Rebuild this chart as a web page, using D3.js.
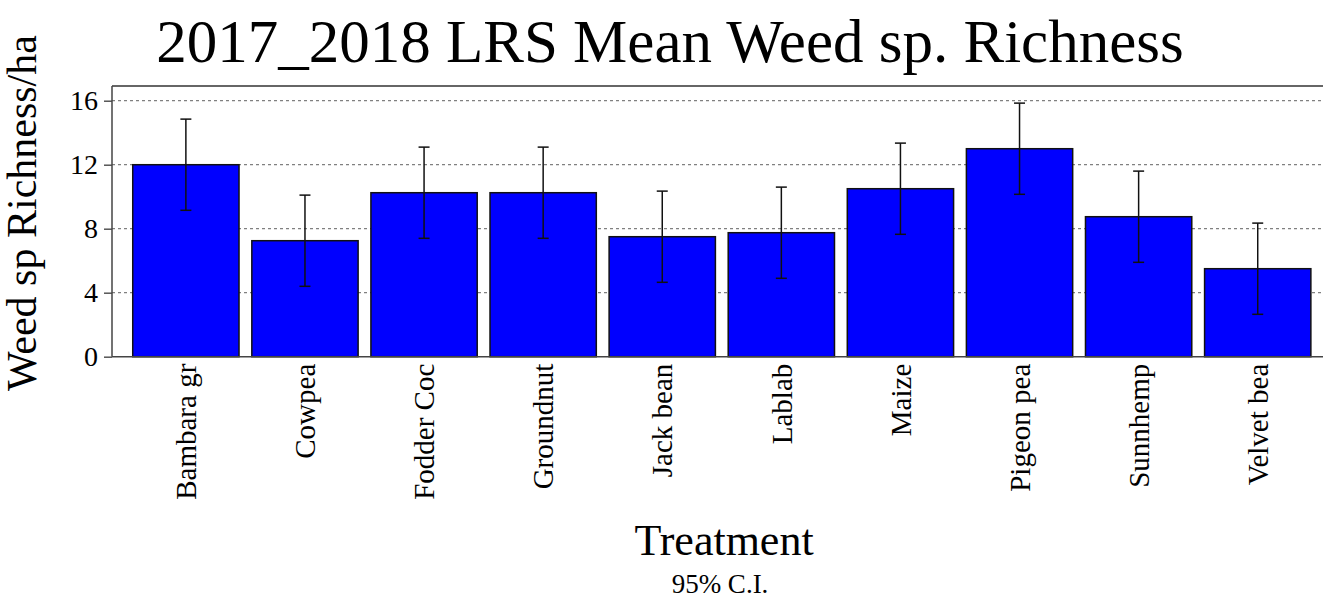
<!DOCTYPE html>
<html>
<head>
<meta charset="utf-8">
<script src="https://cdn.jsdelivr.net/npm/d3@7"></script>
<style>
  body { margin: 0; background: #fff; }
  svg text { font-family: "Times New Roman", "Liberation Serif", Times, "DejaVu Serif", serif !important; }
</style>
</head>
<body>
<div id="chart"></div>
<script>
/* 2017_2018 LRS mean weed species richness, bars with 95% C.I. */

const treatments = ["Bambara gr", "Cowpea", "Fodder Coc", "Groundnut", "Jack bean",
                    "Lablab", "Maize", "Pigeon pea", "Sunnhemp", "Velvet bea"];
const means = [12, 7.25, 10.25, 10.25, 7.5, 7.75, 10.5, 13, 8.75, 5.5];
const ciLow = [9.15, 4.4, 7.4, 7.4, 4.65, 4.9, 7.65, 10.15, 5.9, 2.65];
const ciHigh = [14.85, 10.1, 13.1, 13.1, 10.35, 10.6, 13.35, 15.85, 11.6, 8.35];
const yTicks = [0, 4, 8, 12, 16];

const data = treatments.map((t, i) => ({ name: t, mean: means[i], lo: ciLow[i], hi: ciHigh[i] }));

const width = 1323,
      height = 603,
      margin = ({ top: 86, right: 0, bottom: 246, left: 112 });

let svg = d3.select("#chart")
    .append("svg")
    .attr("width", width)
    .attr("height", height);

let x = d3.scaleBand()
    .domain(treatments)
    .range([126.3, 1317.3])
    .paddingInner(0.1075)
    .paddingOuter(0.054);

let y = d3.scaleLinear()
    .domain([0, 16.92])
    .range([height - margin.bottom - 0.3, margin.top]);

// dotted grid lines
svg.append("g")
    .selectAll("line")
    .data(yTicks.filter(d => d > 0))
    .join("line")
    .attr("x1", margin.left)
    .attr("x2", width)
    .attr("y1", d => y(d))
    .attr("y2", d => y(d))
    .attr("stroke", "#808080")
    .attr("stroke-width", 1.3)
    .attr("stroke-dasharray", "3,3");

// top frame line
svg.append("line")
    .attr("x1", margin.left)
    .attr("x2", width)
    .attr("y1", y(16.92))
    .attr("y2", y(16.92))
    .attr("stroke", "#666")
    .attr("stroke-width", 2);

// bars
svg.selectAll(".bar")
    .data(data)
    .join("rect")
    .attr("class", "bar")
    .attr("x", d => x(d.name))
    .attr("width", x.bandwidth())
    .attr("y", d => y(d.mean))
    .attr("height", d => y(0) - y(d.mean))
    .attr("fill", "#0000ff")
    .attr("stroke", "#111")
    .attr("stroke-width", 1.5);

// error bars
let err = svg.selectAll(".err")
    .data(data)
    .join("g")
    .attr("class", "err")
    .attr("stroke", "#111")
    .attr("stroke-width", 1.5);

err.append("line")
    .attr("x1", d => x(d.name) + x.bandwidth() / 2)
    .attr("x2", d => x(d.name) + x.bandwidth() / 2)
    .attr("y1", d => y(d.lo))
    .attr("y2", d => y(d.hi));

for (let key of ["lo", "hi"]) {
    err.append("line")
        .attr("x1", d => x(d.name) + x.bandwidth() / 2 - 5.5)
        .attr("x2", d => x(d.name) + x.bandwidth() / 2 + 5.5)
        .attr("y1", d => y(d[key]))
        .attr("y2", d => y(d[key]));
}

// y axis
let yAxis = svg.append("g")
    .attr("transform", `translate(${margin.left},0)`)
    .call(d3.axisLeft(y).tickValues(yTicks).tickSize(8).tickPadding(6).tickSizeOuter(0));
yAxis.select(".domain").remove();
yAxis.append("line")
    .attr("y1", y(0))
    .attr("y2", y(16.92))
    .attr("stroke", "#444")
    .attr("stroke-width", 1.5);
yAxis.selectAll(".tick line").attr("stroke", "#555").attr("stroke-width", 1.5);
yAxis.selectAll(".tick text")
    .attr("fill", "#000")
    .style("font-size", "28px");

// x axis
let xAxis = svg.append("g")
    .attr("transform", `translate(0,${y(0)})`)
    .call(d3.axisBottom(x).tickSize(0).tickPadding(0));
xAxis.select(".domain").remove();
xAxis.append("line")
    .attr("x1", margin.left)
    .attr("x2", width)
    .attr("stroke", "#444")
    .attr("stroke-width", 1.5);
xAxis.selectAll(".tick text")
    .attr("fill", "#000")
    .attr("transform", "rotate(-90)")
    .attr("x", -7)
    .attr("y", 0)
    .attr("dy", "0.35em")
    .attr("text-anchor", "end")
    .style("font-size", "29px");

// titles
svg.append("text")
    .attr("x", 670)
    .attr("y", 62)
    .attr("text-anchor", "middle")
    .style("font-size", "61px")
    .text("2017_2018 LRS Mean Weed sp. Richness");

svg.append("text")
    .attr("transform", "translate(36,213) rotate(-90)")
    .attr("text-anchor", "middle")
    .style("font-size", "42px")
    .text("Weed sp Richness/ha");

svg.append("text")
    .attr("x", 724)
    .attr("y", 555)
    .attr("text-anchor", "middle")
    .style("font-size", "44px")
    .text("Treatment");

svg.append("text")
    .attr("x", 720)
    .attr("y", 593)
    .attr("text-anchor", "middle")
    .style("font-size", "27px")
    .text("95% C.I.");
</script>
</body>
</html>
